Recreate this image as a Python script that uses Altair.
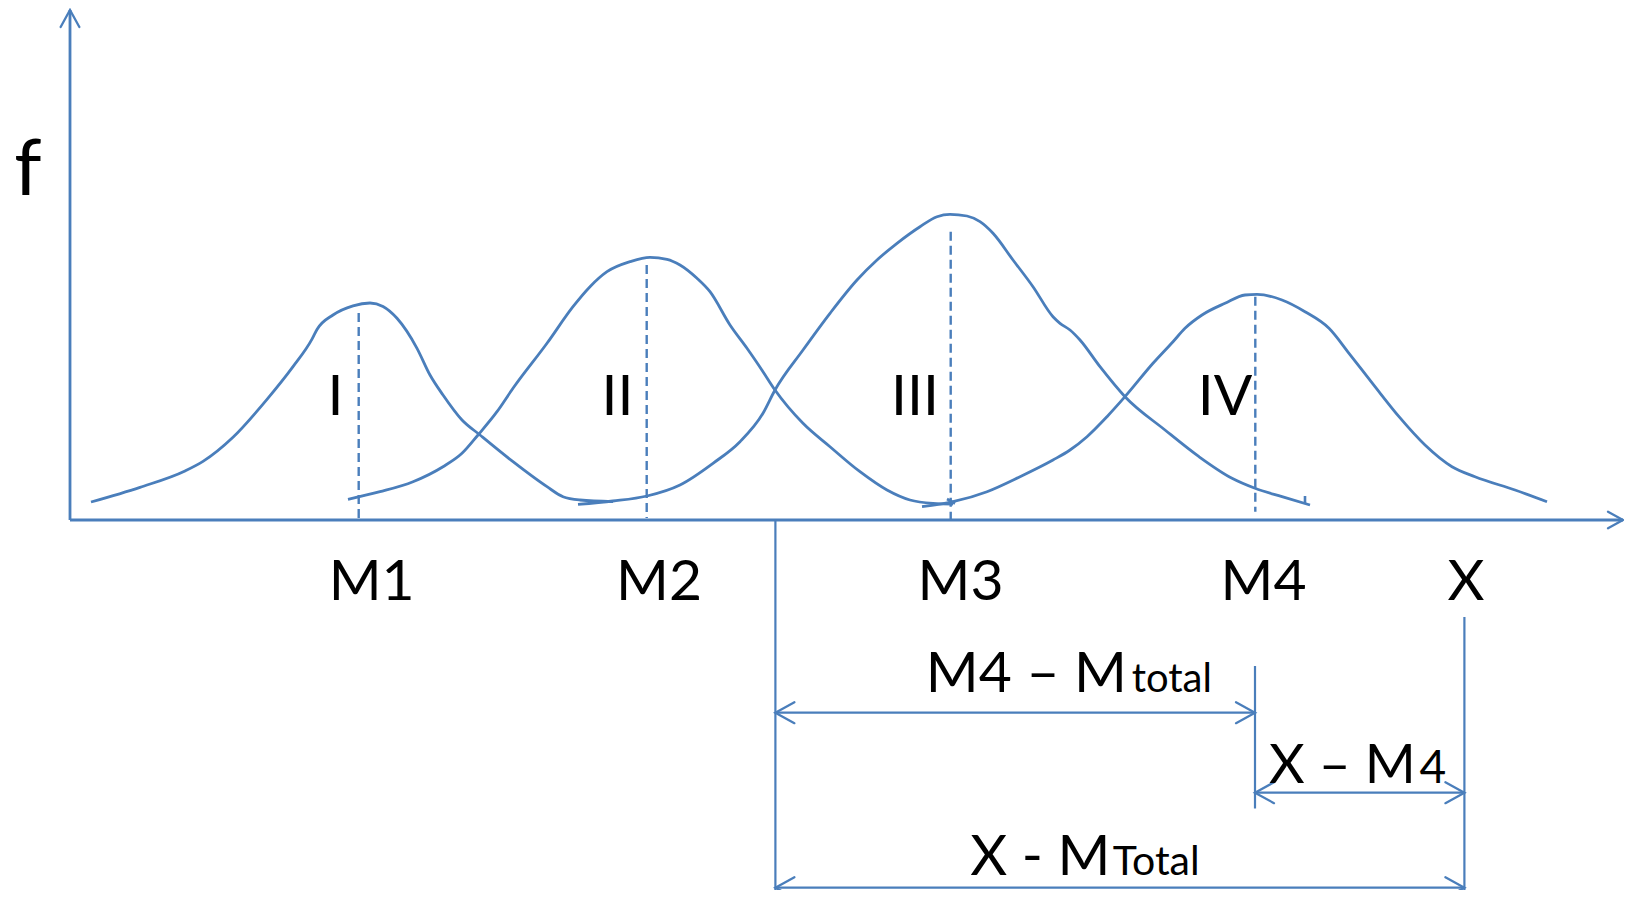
import altair as alt
import pandas as pd

BLUE = "#4A7EBB"
FONT = "Lato"

# ---- data (x measured along the axis, f above the axis) ----
CURVE_I_X = [21, 70, 115, 133, 163, 197, 223, 242, 247, 263, 283, 300, 313, 327, 347, 360, 373, 392, 410, 443, 477, 493, 510, 543]
CURVE_I_Y = [18, 32.7, 49, 58.6, 82.7, 120.6, 153.3, 180.8, 190.5, 205, 214.2, 217, 213.5, 201.7, 171.7, 145, 125, 100, 85, 58.3, 33.3, 23.3, 20, 18.3]

CURVE_II_X = [278, 310, 343, 373, 392, 408, 427, 443, 477, 503, 520, 537, 560, 580, 597, 610, 627, 640, 660, 677, 693, 705, 733, 760, 790, 817, 840, 863, 883]
CURVE_II_Y = [20.7, 28.3, 38.3, 53.3, 66.7, 85, 108.3, 131.7, 176.7, 213.3, 233.3, 248.3, 258.3, 262.7, 260.7, 255, 241.7, 228.3, 195, 171.7, 148.3, 130, 96.7, 73.3, 48.3, 30, 20, 16.7, 16]

CURVE_III_X = [508, 543, 577, 610, 643, 670, 693, 705, 733, 760, 787, 807, 827, 850, 867, 880, 897, 910, 923, 943, 963, 983, 990, 1000, 1010, 1030, 1055, 1095, 1129, 1162, 1185, 1212, 1240]
CURVE_III_Y = [15.7, 19, 24, 35, 56.7, 78.3, 106.7, 130, 170, 206.7, 240, 260, 276.7, 293.3, 303.3, 305.7, 304, 298.3, 286.7, 260, 233.3, 203.3, 196.7, 190, 180, 153.3, 123.3, 90, 63.3, 41.7, 31.7, 23.3, 15]

CURVE_IV_X = [852, 883, 917, 950, 983, 1000, 1017, 1037, 1055, 1083, 1103, 1115, 1132, 1155, 1175, 1187, 1212, 1235, 1259, 1279, 1305, 1329, 1355, 1382, 1405, 1445, 1477]
CURVE_IV_Y = [13.3, 18.3, 28.3, 43.3, 60, 70, 83.3, 103.3, 123.3, 156.7, 178.3, 191.7, 205, 216.7, 225, 225.7, 220, 208.3, 191.7, 166.7, 133.3, 103.3, 75, 53.3, 43.3, 30, 18.3]

# small pen strokes at curve ends
STROKE_X = [877, 1235]
STROKE_X2 = [885, 1235]
STROKE_Y = [21, 17]
STROKE_Y2 = [16.5, 24]

# means (dashed verticals)
MEAN_NAMES = ["M1", "M2", "M3", "M4"]
MEAN_X = [288.7, 576.7, 880.7, 1185.3]
MEAN_TOP = [207, 255, 288.3, 223.3]
MEAN_BOTTOM = [0, 2, 0, 8.3]

GROUP_LABELS = ["I", "II", "III", "IV"]
GROUP_LABEL_X = [265.5, 547.5, 845, 1155]
GROUP_LABEL_Y = [105, 105, 105, 105]

AXIS_LABELS = ["M1", "M2", "M3", "M4", "X"]
AXIS_LABEL_X = [301.7, 589, 890.5, 1193.6, 1396]
AXIS_LABEL_Y = [-80, -80, -80, -80, -80]

# axes
X_AXIS_END = 1553
Y_AXIS_END = 510

# dimension lines
M_TOTAL = 705.4
M4 = 1185
X_VAL = 1394.4
VERT_X = [M_TOTAL, X_VAL, M4]
VERT_TOP = [0, -97, -146]
VERT_BOTTOM = [-378, -378, -288.5]
DIM_FROM = [M_TOTAL, M4, M_TOTAL]
DIM_TO = [M4, X_VAL, X_VAL]
DIM_Y = [-192.7, -272.7, -367.7]

DIM_MAIN = ["M4 \u2013 M", "X \u2013 M", "X - M"]
DIM_MAIN_X = [1057, 1345.8, 1040.5]
DIM_MAIN_Y = [-171.7, -263.3, -355]
DIM_MAIN_SIZE = [57, 55, 57]
DIM_SUB = ["total", "4", "Total"]
DIM_SUB_X = [1061.7, 1349.6, 1042.8]
DIM_SUB_SIZE = [40, 46, 41]

# ---- tables ----
curves = pd.concat([
    pd.DataFrame({"x": CURVE_I_X, "y": CURVE_I_Y, "c": "I"}),
    pd.DataFrame({"x": CURVE_II_X, "y": CURVE_II_Y, "c": "II"}),
    pd.DataFrame({"x": CURVE_III_X, "y": CURVE_III_Y, "c": "III"}),
    pd.DataFrame({"x": CURVE_IV_X, "y": CURVE_IV_Y, "c": "IV"}),
], ignore_index=True)
curves["o"] = range(len(curves))

strokes = pd.DataFrame({"x": STROKE_X, "x2": STROKE_X2, "y": STROKE_Y, "y2": STROKE_Y2})
means = pd.DataFrame({"m": MEAN_NAMES, "x": MEAN_X, "y": MEAN_TOP, "y2": MEAN_BOTTOM})

segs = pd.DataFrame({
    "x": [0, 0] + VERT_X + DIM_FROM,
    "x2": [X_AXIS_END, 0] + VERT_X + DIM_TO,
    "y": [0, 0] + VERT_TOP + DIM_Y,
    "y2": [0, Y_AXIS_END] + VERT_BOTTOM + DIM_Y,
    "w": [2.8, 2.8] + [2.2] * 3 + [2.2] * 3,
})

heads_rows = [
    {"x": 0, "y": Y_AXIS_END, "a": 270, "s": 4 * 17 ** 2},
    {"x": X_AXIS_END, "y": 0, "a": 0, "s": 4 * 15 ** 2},
]
for a, b, yy in zip(DIM_FROM, DIM_TO, DIM_Y):
    heads_rows.append({"x": a, "y": yy, "a": 180, "s": 4 * 19 ** 2})
    heads_rows.append({"x": b, "y": yy, "a": 0, "s": 4 * 19 ** 2})
heads = pd.DataFrame(heads_rows)

center_labels = pd.DataFrame({
    "t": GROUP_LABELS + AXIS_LABELS,
    "x": GROUP_LABEL_X + AXIS_LABEL_X,
    "y": GROUP_LABEL_Y + AXIS_LABEL_Y,
})
f_label = pd.DataFrame({"t": ["f"], "x": [-42], "y": [325.4]})
main_labels = pd.DataFrame({"t": DIM_MAIN, "x": DIM_MAIN_X, "y": DIM_MAIN_Y, "s": DIM_MAIN_SIZE})
sub_labels = pd.DataFrame({"t": DIM_SUB, "x": DIM_SUB_X, "y": DIM_MAIN_Y, "s": DIM_SUB_SIZE})

# ---- scales (no visible axes) ----
xs = alt.Scale(domain=[-62, 1554], nice=False, zero=False)
ys = alt.Scale(domain=[-370, 512], nice=False, zero=False)
X = lambda f="x": alt.X(f, type="quantitative", scale=xs, axis=None)
Y = lambda f="y": alt.Y(f, type="quantitative", scale=ys, axis=None)

curve_layer = alt.Chart(curves).mark_line(
    interpolate="monotone", color=BLUE, strokeWidth=2.8, strokeJoin="round"
).encode(x=X(), y=Y(), detail="c:N", order="o:Q")

stroke_layer = alt.Chart(strokes).mark_rule(color=BLUE, strokeWidth=2.6).encode(
    x=X(), x2="x2:Q", y=Y(), y2="y2:Q")

mean_layer = alt.Chart(means).mark_rule(color=BLUE, strokeWidth=2.4, strokeDash=[9, 5]).encode(
    x=X(), y=Y(), y2="y2:Q")

seg_layer = alt.Chart(segs).mark_rule(color=BLUE).encode(
    x=X(), x2="x2:Q", y=Y(), y2="y2:Q",
    strokeWidth=alt.StrokeWidth("w:Q", scale=None))

head_layer = alt.Chart(heads).mark_point(
    shape="M-1,-0.55L0,0L-1,0.55", filled=False, color=BLUE, strokeWidth=2.3,
    opacity=1, strokeCap="round", strokeJoin="miter"
).encode(x=X(), y=Y(), angle=alt.Angle("a:Q", scale=None), size=alt.Size("s:Q", scale=None))

center_text = alt.Chart(center_labels).mark_text(
    font=FONT, fontSize=57, color="black", align="center", baseline="alphabetic"
).encode(x=X(), y=Y(), text="t:N")

f_text = alt.Chart(f_label).mark_text(
    font=FONT, fontSize=78, color="black", align="center", baseline="alphabetic"
).encode(x=X(), y=Y(), text="t:N")

main_text = alt.Chart(main_labels).mark_text(
    font=FONT, color="black", align="right", baseline="alphabetic"
).encode(x=X(), y=Y(), text="t:N", size=alt.Size("s:Q", scale=None))

sub_text = alt.Chart(sub_labels).mark_text(
    font=FONT, color="black", align="left", baseline="alphabetic"
).encode(x=X(), y=Y(), text="t:N", size=alt.Size("s:Q", scale=None))

chart = alt.layer(
    seg_layer, mean_layer, curve_layer, stroke_layer, head_layer,
    center_text, f_text, main_text, sub_text
).properties(
    width=1616, height=882, padding=0,
    autosize=alt.AutoSizeParams(type="none"),
    background="white",
).configure_view(strokeWidth=0)

chart.save("out.html", embed_options={"renderer": "svg", "actions": False})
